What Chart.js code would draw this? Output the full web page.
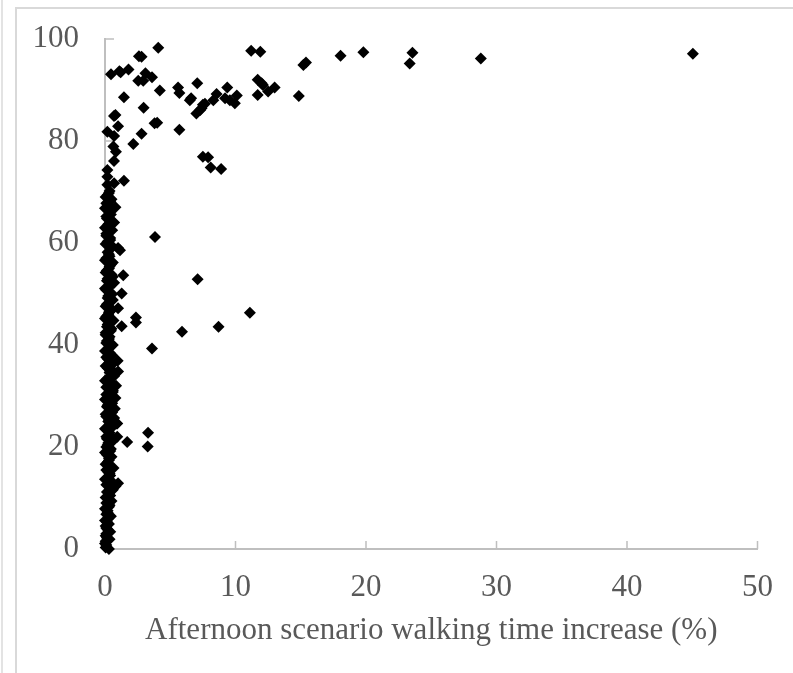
<!DOCTYPE html>
<html>
<head>
<meta charset="utf-8">
<script src="https://cdn.jsdelivr.net/npm/chart.js@4.4.1/dist/chart.umd.min.js"></script>
<style>
    body { margin: 0; background: #fff; }
    #wrap { position: relative; width: 793px; height: 673px; }
    #frame { position: absolute; left: 15px; top: 7px; width: 800px; height: 700px; border-left: 2px solid #d9d9d9; border-top: 2px solid #d9d9d9; }
    #edge { position: absolute; left: 1px; top: 0; width: 0; height: 673px; border-left: 2px solid #e3e3e3; }
    canvas { position: absolute; left: 0; top: 0; }
</style>
</head>
<body>
<div id="wrap">
    <div id="edge"></div>
    <div id="frame"></div>
    <canvas id="chart" width="793" height="673"></canvas>
</div>
<script>
// walking time increase (%), afternoon scenario
const xValues = [
    // dense column near zero
    0.05, 0.1, 0.05, 0.15, 0.1, 0.2, 0.05, 0.15, 0.25, 0.1, 0.2, 0.3, 0.1, 0.25,
    0.4, 0.15, 0.6, 0.8, 1.0, 0.5, 0.2, 0.35, 0.1, 0.45, 0.2, 0.3, 0.15, 0.4, 0.1,
    0.25, 0.15, 0.35, 0.2, 0.6, 0.9, 0.3, 0.1, 0.55, 0.75, 0.2, 0.4, 0.8, 0.1,
    0.6, 0.3, 0.85, 0.5, 0.15, 0.7, 0.35, 1.0, 0.2, 0.55, 0.97, 0.1, 0.4, 0.25, 0.6,
    0.15, 0.35, 0.05, 0.5, 0.2, 0.65, 0.1, 0.3, 0.45, 1.0, 0.15, 0.6, 0.25, 1.28,
    0.1, 0.4, 0.7, 0.2, 1.4, 0.5, 0.15, 0.35, 0.6, 0.1, 0.3, 1.0, 1.15, 0.5, 0.2,
    0.4, 0.1, 0.55, 0.25, 0.7, 0.15, 0.45, 0.3, 0.8, 0.1, 0.5, 0.2, 0.35, 0.18, 0.7, 1.45, 0.18, 0.18,
    0.69, 0.64, 0.84, 0.7, 0.8, 1.0, 0.18, 0.69, 2.8, 2.17,
    // second pass through the column
    0.3, 0.0, 0.35, 0.05, 0.4, 0.1, 0.3, 0.0, 0.45, 0.2, 0.0, 0.35, 0.5, 0.05, 0.3,
    0.55, 0.1, 0.0, 0.4, 0.25, 0.65, 0.05, 0.3, 0.5, 0.0, 0.45, 0.2, 0.6, 0.1, 0.35,
    0.0, 0.5, 0.25, 0.7, 0.05, 0.4, 0.15, 0.55, 0.0, 0.3, 0.6, 0.1, 0.45, 0.0, 0.3,
    0.5, 0.05, 0.35, 0.2, 0.55, 0.0, 0.4, 0.1, 0.3, 0.05, 0.45, 0.15, 0.35, 0.0, 0.25,
    0.5, 0.05, 0.35, 0.2, 0.55, 0.0, 0.4, 0.15, 0.6, 0.05, 0.3, 0.45, 0.0, 0.35, 0.2,
    0.5, 0.05, 0.4, 0.1, 0.3, 0.0, 0.25, 0.45, 0.1, 0.35, 0.0, 0.2, 0.4, 0.05, 0.3,
    // scattered low / middle points
    0.94, 0.94, 1.7, 3.3, 3.27, 3.6, 1.28, 2.37, 2.37, 5.9, 8.7, 11.1, 7.1, 3.83,
    // upper band
    0.46, 1.1, 1.2, 1.8, 2.6, 2.8, 3.1, 2.55, 2.93, 3.6, 4.08, 4.2, 1.45, 2.96,
    3.8, 4.0, 5.6, 5.7, 7.07, 6.6, 6.5, 7.5, 7.3, 7.0, 5.7,
    7.4, 7.66, 8.3, 8.55, 9.2, 9.37, 9.57, 9.95, 10.1,
    11.2, 11.9, 11.7, 12.0, 12.1, 12.5, 13.0, 11.7, 14.85, 15.2, 15.4, 18.05, 19.8,
    23.56, 23.35, 28.8, 45.05,
    7.5, 7.9, 8.1, 8.9
];
// share of trips (%)
const yValues = [
    0.3, 0.8, 1.5, 2.2, 3.0, 3.8, 4.5, 5.3, 6.0, 6.8, 7.5, 8.3, 9.0, 9.8,
    10.5, 11.2, 11.6, 12.3, 12.9, 13.3, 14.0, 14.8, 15.5, 16.2, 17.0, 17.8, 18.5, 19.2, 20.0,
    20.8, 21.6, 22.4, 23.2, 24.0, 24.6, 25.3, 26.0, 26.8, 27.5, 28.2, 29.0, 29.6, 30.3,
    30.8, 31.4, 32.0, 32.6, 33.3, 33.9, 34.6, 34.8, 35.5, 36.2, 36.9, 37.6, 38.4, 39.2, 40.0,
    40.8, 41.6, 42.4, 43.2, 44.0, 44.8, 45.6, 46.4, 47.2, 47.2, 48.0, 48.8, 49.6, 50.1,
    50.8, 51.5, 52.2, 53.0, 53.7, 53.8, 54.6, 55.4, 56.2, 57.0, 57.8, 59.0, 58.6, 59.5, 60.3,
    61.0, 61.8, 62.5, 63.3, 64.0, 64.8, 65.6, 66.4, 67.0, 67.8, 68.6, 69.4, 70.2, 71.4, 71.7, 72.2, 73.0, 74.3,
    76.1, 78.9, 77.9, 81.0, 85.1, 82.9, 81.8, 84.9, 81.4, 79.4,
    0.0, 1.1, 1.9, 2.6, 3.4, 4.1, 4.9, 5.6, 6.4, 7.1, 7.9, 8.6, 9.4, 10.1, 10.9,
    12.0, 12.6, 13.7, 14.4, 15.1, 15.9, 16.6, 17.4, 18.1, 18.9, 19.6, 20.4, 21.2, 22.0, 22.8,
    23.6, 24.3, 25.0, 25.7, 26.4, 27.1, 27.9, 28.6, 29.3, 30.0, 31.1, 31.7, 32.3, 33.0, 33.6,
    35.2, 35.9, 36.6, 37.3, 38.0, 38.8, 39.6, 40.4, 41.2, 42.0, 42.8, 43.6, 44.4, 45.2, 46.0,
    46.8, 47.6, 48.4, 49.2, 50.0, 51.1, 51.8, 52.6, 53.4, 54.2, 55.0, 55.8, 56.6, 57.4, 58.2,
    59.0, 59.8, 60.6, 61.4, 62.2, 63.0, 63.7, 64.4, 65.2, 66.0, 66.8, 67.6, 68.2, 69.0, 69.8,
    24.6, 22.0, 21.0, 22.8, 20.1, 39.3, 43.7, 45.4, 44.4, 42.6, 43.6, 46.3, 52.9, 61.2,
    93.1, 93.7, 93.5, 94.0, 96.6, 96.5, 93.3, 91.8, 91.8, 92.5, 98.3, 89.9, 88.6, 86.5,
    83.5, 83.6, 90.5, 89.4, 91.3, 88.4, 88.0, 87.1, 86.1, 85.4, 82.2,
    86.4, 87.3, 88.0, 89.2, 88.4, 90.5, 88.0, 87.4, 88.9,
    97.7, 97.5, 92.0, 91.3, 91.0, 89.7, 90.5, 89.0, 88.8, 94.9, 95.4, 96.7, 97.4,
    97.3, 95.2, 96.2, 97.1,
    76.9, 76.8, 74.8, 74.5
];
const xTicks = [0, 10, 20, 30, 40, 50];
const yTicks = [0, 20, 40, 60, 80, 100];
const xTitle = "Afternoon scenario walking time increase (%)";

const points = xValues.map((x, i) => ({ x: x, y: yValues[i] }));

const axisColor = "#bfbfbf";
const labelColor = "#595959";
const serif = "'Liberation Serif', 'Times New Roman', serif";

// short tick marks drawn inside the plot, like the office chart
const innerTicks = {
    id: "innerTicks",
    beforeDatasetsDraw(chart) {
        const { ctx, scales: { x, y } } = chart;
        ctx.save();
        ctx.strokeStyle = axisColor;
        ctx.lineWidth = 1.5;
        ctx.beginPath();
        xTicks.forEach(v => {
            const px = x.getPixelForValue(v);
            ctx.moveTo(px, y.bottom);
            ctx.lineTo(px, y.bottom - 8);
        });
        yTicks.forEach(v => {
            const py = y.getPixelForValue(v);
            ctx.moveTo(x.left, py);
            ctx.lineTo(x.left + 9, py);
        });
        ctx.stroke();
        ctx.restore();
    }
};

new Chart(document.getElementById("chart"), {
    type: "scatter",
    data: {
        datasets: [{
            data: points,
            pointStyle: "rectRot",
            pointRadius: 6,
            pointHoverRadius: 6,
            backgroundColor: "#000",
            borderColor: "#000",
            borderWidth: 0,
            clip: false
        }]
    },
    options: {
        responsive: false,
        animation: false,
        layout: { padding: { left: 0, top: 39, right: 35, bottom: 0 } },
        plugins: { legend: { display: false }, tooltip: { enabled: false } },
        scales: {
            x: {
                type: "linear",
                min: 0,
                max: 50,
                afterFit: s => { s.height = 124; },
                afterBuildTicks: s => { s.ticks = xTicks.map(v => ({ value: v })); },
                border: { display: true, color: axisColor, width: 2 },
                grid: { drawOnChartArea: false, drawTicks: false },
                ticks: { color: labelColor, font: { family: serif, size: 31 }, padding: 20, maxRotation: 0 },
                title: {
                    display: true,
                    text: xTitle,
                    color: labelColor,
                    font: { family: serif, size: 31 },
                    padding: { top: 0, bottom: 24 }
                }
            },
            y: {
                type: "linear",
                min: 0,
                max: 100,
                afterFit: s => { s.width = 105; s.paddingTop = 0; s.paddingBottom = 0; },
                afterBuildTicks: s => { s.ticks = yTicks.map(v => ({ value: v })); },
                border: { display: true, color: axisColor, width: 2 },
                grid: { drawOnChartArea: false, drawTicks: false },
                ticks: { color: labelColor, font: { family: serif, size: 31 }, padding: 26 }
            }
        }
    },
    plugins: [innerTicks]
});
</script>
</body>
</html>
